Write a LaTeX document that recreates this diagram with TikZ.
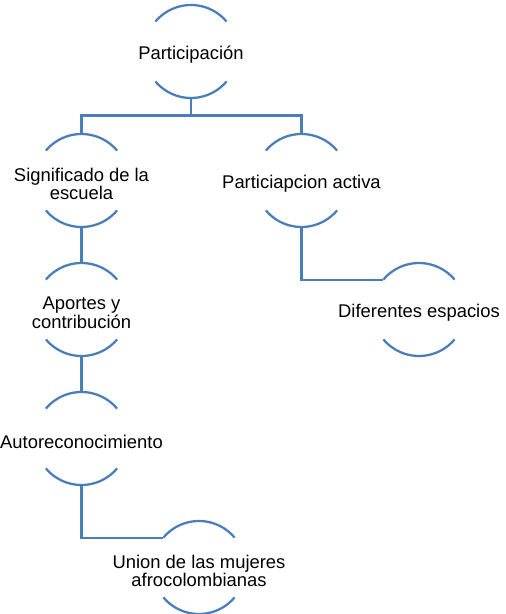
\documentclass[tikz,border=0pt]{standalone}
\usepackage{fontspec}
\setmainfont{Liberation Sans}
\usetikzlibrary{calc}
\definecolor{linkblue}{RGB}{74,126,187}
\tikzset{
  lbl/.style={inner sep=0pt, align=center, text=black, font=\fontsize{13.8pt}{13.8pt}\selectfont},
  arcline/.style={draw=linkblue, line width=1.7pt},
  conn/.style={draw=linkblue, line width=1.6pt}
}
\newcommand\R{46.5}
\newcommand\arcnode[3]{%
  \coordinate (#1) at (#2);
  \node[lbl, yshift=-2.5pt] (#1-text) at (#1) {#3};
  \coordinate (#1-top) at ($(#1)+(90:\R)$);
  \coordinate (#1-tl) at ($(#1)+(140:\R)$);
  \coordinate (#1-bl) at ($(#1)+(220:\R)$);
  \coordinate (#1-bot) at ($(#1)+(270:\R)$);
  \draw[arcline] (#1-tl) arc[start angle=140, end angle=40, radius=\R];
  \draw[arcline] (#1-bl) arc[start angle=220, end angle=320, radius=\R];
}
\begin{document}
\begin{tikzpicture}[x=0.75pt, y=0.75pt]
\useasboundingbox (0,0) rectangle (506,614);
\arcnode{p}{191,562.5}{Participación}
\arcnode{s}{81.5,433.5}{Significado de la\\escuela}
\arcnode{pa}{301.5,433.5}{Particiapcion activa}
\arcnode{a}{81.5,304.5}{Aportes y\\contribución}
\arcnode{d}{419,304.5}{Diferentes espacios}
\arcnode{r}{81.5,175.5}{Autoreconocimiento}
\arcnode{u}{199,46.5}{Union de las mujeres\\afrocolombianas}
\coordinate (bus) at ($(p-bot)+(0,-17.5)$);
\draw[conn] (p-bot) -- (bus) -| (s-top);
\draw[conn] (bus) -| (pa-top);
\draw[conn] (s-bot) -- (a-top);
\draw[conn] (a-bot) -- (r-top);
\draw[conn] (pa-bot) |- (d-tl);
\draw[conn] (r-bot) |- (u-tl);
\end{tikzpicture}
\end{document}
